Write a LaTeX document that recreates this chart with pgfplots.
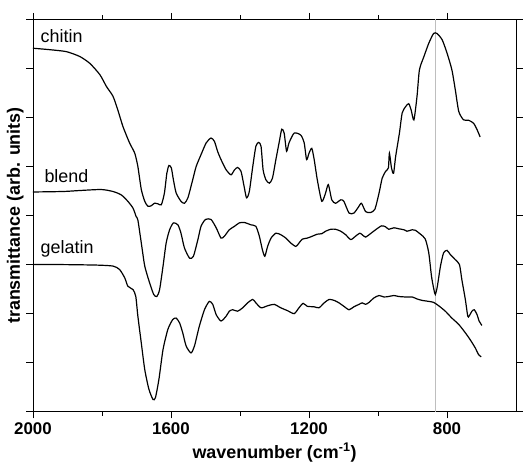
\documentclass[border=0pt]{standalone}
\usepackage{fontspec}
\setmainfont{Liberation Sans}
\usepackage{pgfplots}
\pgfplotsset{compat=1.18}

\begin{document}
\begin{tikzpicture}
\begin{axis}[
  scale only axis, width=483.7bp, height=393bp,
  x dir=reverse, xmin=600, xmax=2000, ymin=0, ymax=8,
  xtick={800,1200,1600,2000}, minor xtick={1000,1400,1800},
  ytick={0,1,...,8}, yticklabels={},
  tick align=outside, major tick length=6.5bp, minor tick length=4bp,
  every tick/.style={black, line width=0.9bp},
  axis line style={line width=0.9bp},
  /pgf/number format/1000 sep={},
  /pgf/number format/assume math mode=true,
  xticklabel style={font=\fontsize{17}{19}\selectfont\bfseries, yshift=-1bp},
  xlabel={wavenumber (cm\textsuperscript{-1})},
  ylabel={transmittance (arb. units)},
  label style={font=\fontsize{18}{20}\selectfont\bfseries},
  xlabel style={at={(axis description cs:0.5,0)}, anchor=north, yshift=-28bp},
  ylabel style={at={(axis description cs:-0.019,0.5)}, anchor=south, inner sep=0pt},
  clip=false,
]
% reference line
\addplot[color={rgb,255:red,190;green,190;blue,190}, line width=1bp] coordinates {(834,0) (834,8)};

% chitin
\addplot[black, line width=1.2bp, smooth, tension=0.4] coordinates {
(2000,7.41) (1951,7.38) (1903,7.34) (1864,7.24) (1835,7.10) (1806,6.87) (1787,6.63) (1768,6.43)
(1754,6.15) (1739,5.81) (1720,5.48) (1705,5.27) (1696,5.00) (1686,4.53) (1676,4.29) (1667,4.19)
(1657,4.20) (1648,4.25) (1638,4.24) (1628,4.22) (1619,4.46) (1612,4.86) (1606,5.02) (1599,4.97)
(1593,4.73) (1585,4.46) (1571,4.29) (1561,4.25) (1551,4.36) (1537,4.73) (1527,5.00) (1513,5.24)
(1498,5.48) (1484,5.58) (1474,5.51) (1465,5.31) (1455,5.14) (1440,4.93) (1426,4.83) (1416,4.93)
(1407,4.98) (1397,4.90) (1388,4.59) (1381,4.36) (1373,4.49) (1363,5.00) (1354,5.41) (1346,5.49)
(1339,5.41) (1333,4.93) (1325,4.73) (1315,4.66) (1306,4.76) (1296,5.14) (1286,5.51) (1279,5.76)
(1272,5.68) (1265,5.31) (1258,5.48) (1243,5.68) (1224,5.64) (1214,5.48) (1207,5.14) (1200,5.27)
(1192,5.37) (1185,5.14) (1176,4.73) (1163,4.29) (1152,4.46) (1144,4.63) (1134,4.32) (1123,4.25)
(1108,4.32) (1099,4.29) (1084,4.05) (1070,4.05) (1057,4.17) (1048,4.25) (1036,4.08) (1022,4.06)
(1009,4.13) (997,4.46) (988,4.76) (978,4.90) (970,4.97) (967,5.27) (961,4.97) (955,4.86)
(949,5.20) (938,5.68) (930,6.09) (920,6.22) (911,6.28) (904,6.15) (896,5.95) (887,6.43)
(880,6.97) (867,7.24) (853,7.51) (839,7.71) (829,7.71) (814,7.58) (800,7.31) (786,6.97)
(776,6.56) (766,6.12) (752,5.95) (737,5.94) (723,5.88) (713,5.75) (704,5.60)
};

% blend
\addplot[black, line width=1.2bp, smooth, tension=0.4] coordinates {
(2000,4.48) (1912,4.49) (1864,4.51) (1802,4.53) (1768,4.49) (1744,4.42) (1725,4.29) (1710,4.15)
(1701,3.98) (1696,3.91) (1686,3.44) (1676,2.97) (1662,2.63) (1650,2.39) (1641,2.35) (1633,2.49)
(1623,2.97) (1614,3.44) (1604,3.71) (1593,3.85) (1580,3.81) (1571,3.64) (1561,3.34) (1546,3.13)
(1535,3.17) (1522,3.51) (1513,3.78) (1500,3.92) (1484,3.92) (1469,3.75) (1455,3.54) (1445,3.58)
(1431,3.71) (1416,3.78) (1402,3.85) (1388,3.86) (1368,3.81) (1354,3.78) (1344,3.58) (1335,3.30)
(1328,3.17) (1320,3.37) (1310,3.54) (1296,3.64) (1282,3.61) (1267,3.54) (1253,3.44) (1238,3.37)
(1229,3.44) (1219,3.52) (1205,3.54) (1190,3.58) (1176,3.62) (1163,3.63) (1152,3.68) (1137,3.72)
(1123,3.72) (1108,3.68) (1094,3.61) (1079,3.51) (1065,3.58) (1053,3.64) (1046,3.61) (1036,3.56)
(1022,3.63) (1007,3.71) (990,3.79) (978,3.77) (969,3.72) (954,3.75) (940,3.73) (925,3.71)
(916,3.68) (901,3.71) (892,3.70) (877,3.62) (863,3.52) (853,3.24) (845,2.76) (838,2.49)
(834,2.39) (828,2.56) (819,2.97) (810,3.24) (800,3.29) (790,3.20) (776,3.10) (764,3.00)
(757,2.69) (747,2.29) (740,1.95) (736,1.95) (728,2.05) (721,2.08) (713,1.98) (707,1.85) (699,1.76)
};

% gelatin
\addplot[black, line width=1.2bp, smooth, tension=0.4] coordinates {
(2000,3.00) (1912,3.00) (1816,2.99) (1768,2.97) (1749,2.90) (1734,2.73) (1725,2.56) (1710,2.49)
(1702,2.35) (1696,1.95) (1686,1.40) (1676,0.86) (1664,0.46) (1652,0.25) (1645,0.29) (1635,0.66)
(1623,1.27) (1609,1.68) (1595,1.88) (1585,1.91) (1575,1.81) (1566,1.61) (1556,1.34) (1542,1.20)
(1532,1.34) (1518,1.74) (1503,2.08) (1489,2.25) (1479,2.19) (1469,1.98) (1455,1.85) (1440,1.95)
(1431,2.05) (1421,2.08) (1407,2.05) (1392,2.12) (1378,2.22) (1363,2.29) (1354,2.22) (1339,2.12)
(1320,2.16) (1301,2.19) (1282,2.12) (1262,2.06) (1243,2.00) (1229,2.12) (1217,2.21) (1205,2.15)
(1185,2.14) (1171,2.12) (1156,2.22) (1142,2.29) (1127,2.27) (1113,2.22) (1099,2.15) (1084,2.08)
(1070,2.14) (1055,2.19) (1046,2.22) (1036,2.19) (1026,2.23) (1012,2.32) (997,2.37) (983,2.34)
(969,2.35) (954,2.37) (940,2.35) (920,2.34) (901,2.34) (887,2.30) (872,2.27) (853,2.25)
(839,2.23) (824,2.16) (805,2.05) (786,1.91) (766,1.78) (747,1.61) (733,1.47) (718,1.30)
(709,1.17) (701,1.12)
};

\node[anchor=west, inner sep=0pt, font=\fontsize{18}{20}\selectfont] at (axis cs:1978,7.66) {chitin};
\node[anchor=west, inner sep=0pt, font=\fontsize{18}{20}\selectfont] at (axis cs:1967,4.80) {blend};
\node[anchor=west, inner sep=0pt, font=\fontsize{18}{20}\selectfont] at (axis cs:1978,3.32) {gelatin};
\end{axis}
\path (-33bp,-57.7bp) rectangle (490bp,412.3bp);
\end{tikzpicture}
\end{document}
